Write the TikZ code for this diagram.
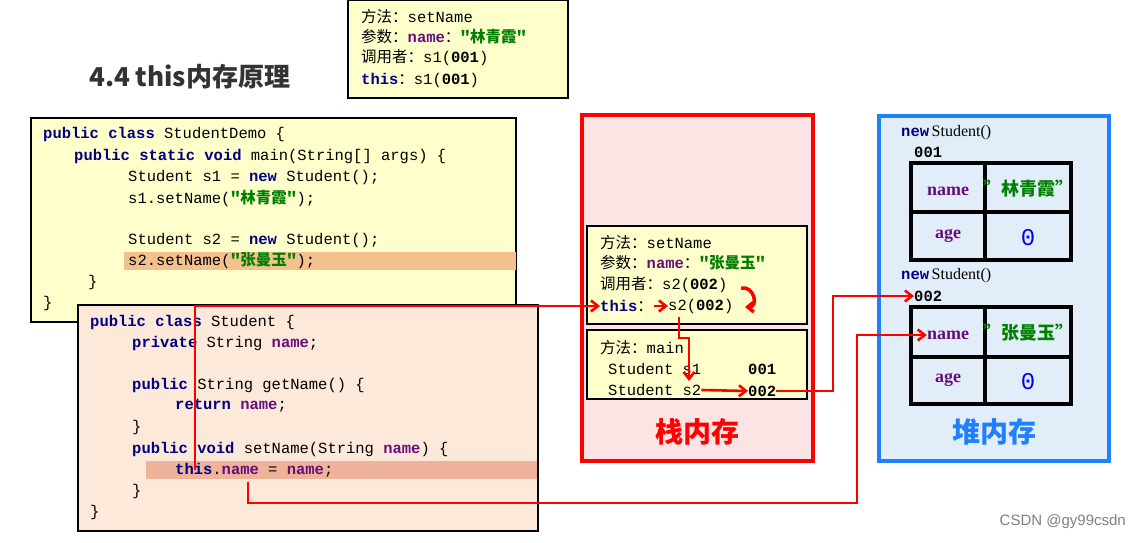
\documentclass[tikz,border=0pt]{standalone}
\usepackage{fontspec}
\setmonofont{Liberation Mono}
\newfontfamily\cjk{Noto Sans CJK SC}
\usetikzlibrary{arrows.meta}
\definecolor{kwc}{HTML}{000080}
\definecolor{nmc}{HTML}{660E7A}
\definecolor{stc}{HTML}{008000}
\definecolor{ylw}{HTML}{FFFFCC}
\definecolor{pch}{HTML}{FDE9D9}
\definecolor{hl1}{HTML}{F2C18E}
\definecolor{hl2}{HTML}{EFB29A}
\definecolor{stk}{HTML}{FDE4E4}
\definecolor{hp}{HTML}{E1EEFA}
\definecolor{hpb}{HTML}{1E7FFF}
\newcommand{\kw}[1]{\textbf{\color{kwc}#1}}
\newcommand{\nm}[1]{\textbf{\color{nmc}#1}}
\newcommand{\cj}[1]{{\cjk #1}}
\newcommand{\st}[1]{{\color{stc}\bfseries\cjk #1}}
\begin{document}
\begin{tikzpicture}[x=1pt,y=-1pt,
  code/.style={anchor=west,inner sep=0,font=\ttfamily\fontsize{15.5}{15.5}\selectfont},
  cell/.style={anchor=center,inner sep=0,font=\fontspec{Liberation Serif}\bfseries\fontsize{18}{18}\selectfont,text=nmc},
  box/.style={draw=black,line width=1.5pt},
  arr/.style={draw=red,line width=2.6pt,-{Straight Barb[length=7pt,width=11pt]}}]
\useasboundingbox (0,0) rectangle (1140,543);
\fill[white] (0,0) rectangle (1140,543);
% title
\node[anchor=west,inner sep=0,font=\cjk\bfseries\fontsize{26}{26}\selectfont,text=black!80] (title) at (89,77) {4.4 this内存原理};
% top box
\draw[box,fill=ylw] (348,0) rectangle (568,98);
\node[code] (t1) at (361,17) {\cj{方法：}setName};
\node[code] (t2) at (361,37) {\cj{参数：}\nm{name}\cj{：}\st{"林青霞"}};
\node[code] (t3) at (361,58) {\cj{调用者：}s1(\textbf{001})};
\node[code] (t4) at (361,80) {\kw{this}\cj{：}s1(\textbf{001})};
% code box 1
\draw[box,fill=ylw] (31,118) rectangle (516,322);
\fill[hl1] (124,252) rectangle (516,270);
\node[code] at (43,134) {\kw{public class} StudentDemo \{};
\node[code] at (74,156) {\kw{public static void} main(String[] args) \{};
\node[code] at (128,177) {Student s1 = \kw{new} Student();};
\node[code] at (128,198) {s1.setName(\st{"林青霞"});};
\node[code] at (128,240) {Student s2 = \kw{new} Student();};
\node[code] at (128,261) {s2.setName(\st{"张曼玉"});};
\node[code] at (88,282) {\}};
\node[code] at (43,303) {\}};
% code box 2
\draw[box,fill=pch] (78,305) rectangle (538,531);
\fill[hl2] (146,461) rectangle (537,479);
\node[code] at (90,322) {\kw{public class} Student \{};
\node[code] at (132,343) {\kw{private} String \nm{name};};
\node[code] at (132,385) {\kw{public} String getName() \{};
\node[code] at (175,406) {\kw{return} \nm{name};};
\node[code] at (132,427) {\}};
\node[code] at (132,449) {\kw{public void} setName(String \nm{name}) \{};
\node[code] at (175,470) {\kw{this}.\nm{name} = \nm{name};};
\node[code] at (132,491) {\}};
\node[code] at (90,512) {\}};
% stack
\draw[red,line width=3.5pt,fill=stk] (582,115) rectangle (813,461);
\node[font=\cjk\bfseries\fontsize{28}{28}\selectfont,text=red] (stl) at (697,432) {栈内存};
\draw[box,fill=ylw] (587,226) rectangle (807,324);
\node[code] at (600,243) {\cj{方法：}setName};
\node[code] at (600,263) {\cj{参数：}\nm{name}\cj{：}\st{"张曼玉"}};
\node[code] (call) at (600,285) {\cj{调用者：}s2(\textbf{002})};
\node[code] (this) at (600,306) {\kw{this}\cj{：}\phantom{s}};
\node[code] (ts2) at (668,306) {s2(\textbf{002})};
\draw[box,fill=ylw] (587,330) rectangle (807,399);
\node[code] at (600,348) {\cj{方法：}main};
\node[code] (ss1) at (608,369) {Student s1};
\node[code] (ss2) at (608,390) {Student s2};
\node[code] (v1) at (748,369) {\textbf{001}};
\node[code] (v2) at (748,391) {\textbf{002}};
% heap
\draw[hpb,line width=3.5pt,fill=hp] (879,116) rectangle (1109,461);
\node[font=\cjk\bfseries\fontsize{28}{28}\selectfont,text=hpb] (hpl) at (994,432) {堆内存};
\node[code] at (901,133) {\kw{new}\,\fontspec{Liberation Serif}\fontsize{16}{16}\selectfont Student()};
\node[code] at (914,152) {\textbf{001}};
\draw[black,line width=3.5pt] (911,163) rectangle (1071,260) (985,163)--(985,260) (911,212)--(1071,212);
\node[cell] at (948,191) {name};
\node[code,anchor=center,font=\fontsize{18}{18}\selectfont] at (1028,189) {\st{”林青霞”}};
\node[cell] at (948,236) {age};
\node[code,anchor=center,font=\ttfamily\fontsize{24}{24}\selectfont,text=blue] at (1028,238) {0};
\node[code] at (901,276) {\kw{new}\,\fontspec{Liberation Serif}\fontsize{16}{16}\selectfont Student()};
\node[code] (o2) at (914,296) {\textbf{002}};
\draw[black,line width=3.5pt] (911,307) rectangle (1071,404) (985,307)--(985,404) (911,357)--(1071,357);
\node[cell] (nm2) at (948,335) {name};
\node[code,anchor=center,font=\fontsize{18}{18}\selectfont] at (1028,333) {\st{”张曼玉”}};
\node[cell] at (948,380) {age};
\node[code,anchor=center,font=\ttfamily\fontsize{24}{24}\selectfont,text=blue] at (1028,382) {0};
% connectors
\coordinate (a0) at (195,470);
\draw[arr] (a0) |- (this.west);
\coordinate (b0) at (248,482);
\draw[arr] (b0) |- (857,503) |- (nm2.west);
\draw[arr] (v2.east) -| (833,296) -- (o2.west);
\draw[arr] (this.east) ++(-8,0) -- (ts2.west);
\draw[red,line width=3.5pt,-{Straight Barb[length=6pt,width=10pt]}] (741,288) to[out=10,in=0,looseness=1.8] (745,307);
\draw[arr] (679,317) -- (679,338) -- (689,338) -- (689,381);
\draw[arr] (ss2.east) -- (v2.west);
\node[anchor=east,inner sep=0,font=\fontspec{Liberation Sans}\fontsize{15}{15}\selectfont,text=gray] at (1126,522) {CSDN @gy99csdn};
\end{tikzpicture}
\end{document}
